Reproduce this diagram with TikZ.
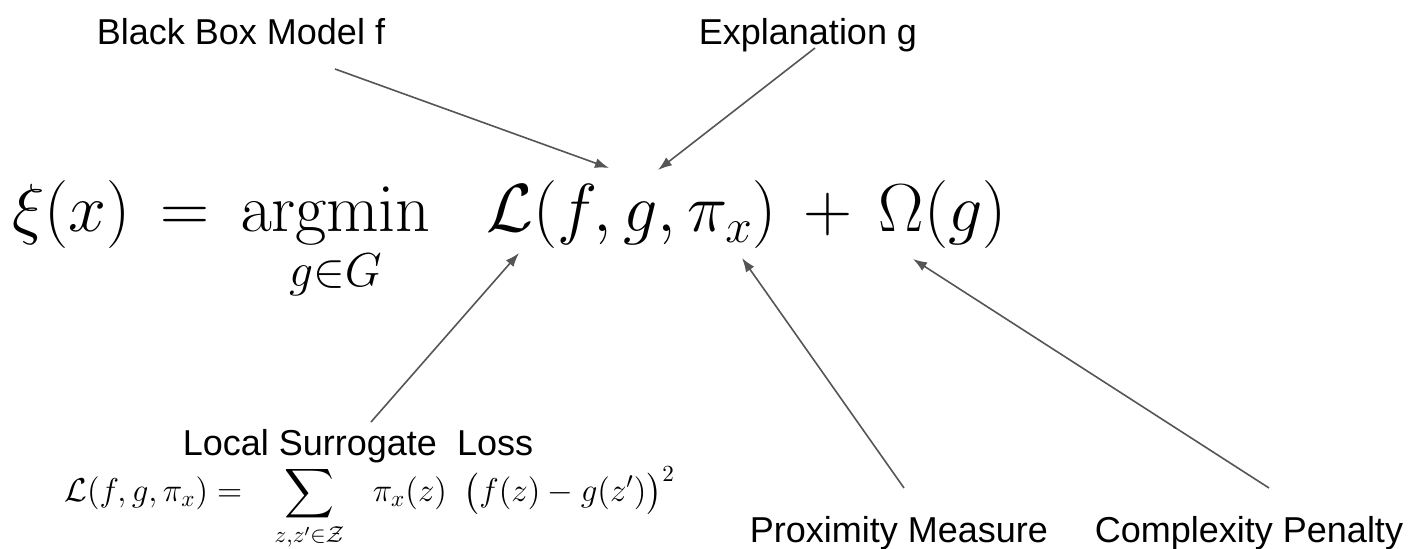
\RequirePackage{fix-cm}
\documentclass[tikz,border=0pt]{standalone}
\usepackage{amsmath}
\usepackage[no-math]{fontspec}
\newfontfamily\lblfont{Liberation Sans}
\usetikzlibrary{arrows.meta}
\definecolor{pgrey}{HTML}{555555}

\begin{document}
\begin{tikzpicture}[x=0.5pt,y=-0.5pt,
  lbl/.style={font=\fontsize{18}{20}\selectfont\lblfont,inner sep=0pt,anchor=base},
  eqn/.style={inner sep=0pt,anchor=base west},
  arr/.style={-{Latex[length=7pt,width=5pt]},draw=pgrey,line width=0.8pt}]

  \useasboundingbox (0,0) rectangle (1419,549);

  % objective
  \node[eqn] (obj) at (12,232) {\fontsize{34}{37}\selectfont
        $\displaystyle \xi(x)\,=\,\operatorname*{argmin}_{g\in G}\hspace{0.65em}
        \mathcal{L}(f,g,\pi_x)\,+\,\Omega(g)$};

  % labels
  \node[lbl] (bbm) at (241,45) {Black Box Model f};
  \node[lbl] (expl) at (808,45) {Explanation g};
  \node[lbl] (loc) at (358,456) {Local Surrogate\ \ Loss};
  \node[lbl] (prox) at (899,543) {Proximity Measure};
  \node[lbl] (cplx) at (1249,543) {Complexity Penalty};

  \node[eqn] (lossdef) at (64,502) {\fontsize{16.5}{18}\selectfont
        $\displaystyle \mathcal{L}(f,g,\pi_x) =\hspace{0.7em}\sum_{z,z'\in\mathcal{Z}}
        \hspace{0.7em}\pi_x(z)\hspace{0.5em}\bigl(f(z)-g(z')\bigr)^2$};

  % arrow ends
  \coordinate (bbm-t) at (335,69);   \coordinate (bbm-h) at (609,168);
  \coordinate (expl-t) at (815,48);  \coordinate (expl-h) at (658,170);
  \coordinate (loc-t) at (371,422);  \coordinate (loc-h) at (519,253);
  \coordinate (prox-t) at (904,488); \coordinate (prox-h) at (742,258);
  \coordinate (cplx-t) at (1269,488); \coordinate (cplx-h) at (913,259);

  \draw[arr] (bbm-t)--(bbm-h); \draw[arr] (expl-t)--(expl-h);
  \draw[arr] (loc-t)--(loc-h); \draw[arr] (prox-t)--(prox-h);
  \draw[arr] (cplx-t)--(cplx-h);
\end{tikzpicture}
\end{document}
